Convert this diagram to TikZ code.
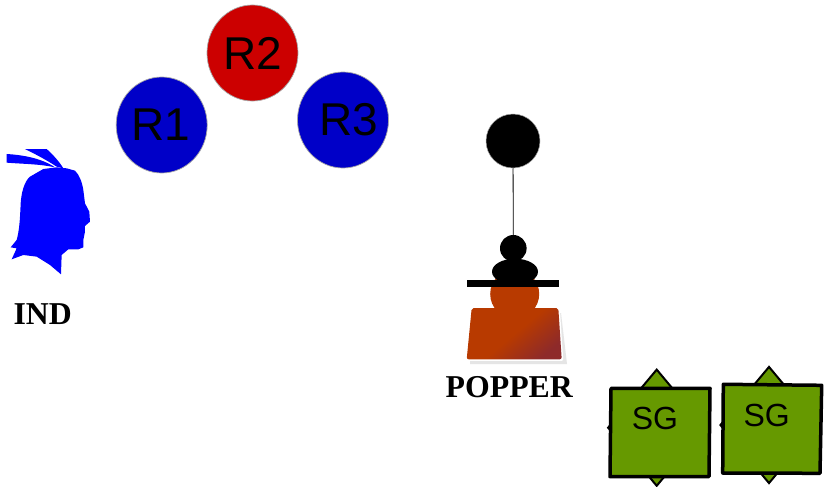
\documentclass[tikz,border=0pt]{standalone}
\usepackage{fontspec}
\setmainfont{Liberation Serif}
\newfontfamily\sgfont{Liberation Sans}
\usepackage{xcolor}
\usetikzlibrary{positioning,shapes.geometric}
\definecolor{ballblue}{HTML}{0000C8}
\definecolor{ballred}{HTML}{CC0000}
\definecolor{indblue}{HTML}{0000FF}
\definecolor{sggreen}{HTML}{669900}
\definecolor{popA}{HTML}{B83A00}
\definecolor{popB}{HTML}{8E2A2A}
\tikzset{
ball/.style={ellipse,draw=gray!70,line width=0.7pt,inner sep=0pt,minimum width=91pt,minimum height=96pt,font=\sgfont\fontsize{46}{46}\selectfont},
balltext/.style={inner sep=0pt,font=\sgfont\fontsize{46}{46}\selectfont},
tag/.style={inner sep=0pt,font=\bfseries\fontsize{31.8}{32}\selectfont},
sgmark/.style={diamond,draw=black,line width=2pt,fill=sggreen,inner sep=0pt},
sgtext/.style={inner sep=0pt,font=\sgfont\fontsize{32}{32}\selectfont},
sgbox/.style={draw=black,line width=3.5pt,fill=sggreen,line join=round}
}
\begin{document}
\begin{tikzpicture}[x=1pt,y=-1pt]
\useasboundingbox (0,0) rectangle (827,487);
\fill[white] (0,0) rectangle (827,487);
% R balls
\node[ball,fill=ballblue] (R1) at (161.7,125) {};
\node[balltext] (R1text) at (160.5,125) {R1};
\node[ball,fill=ballred] (R2) at (252.5,53) {};
\node[balltext] (R2text) at (252.7,53) {R2};
\node[ball,fill=ballblue] (R3) at (343,120) {};
\node[balltext] (R3text) at (349,120) {R3};
% IND
\begin{scope}[shift={(0,140)},x=0.3333pt,y=-0.3333pt]
\fill[indblue] (20,42) .. controls (70,45) and (125,55) .. (165,82) .. controls (120,72) and (70,72) .. (20,68) -- cycle;
\fill[indblue] (75,27) -- (140,27) .. controls (160,45) and (178,65) .. (190,85) -- (170,80) .. controls (140,60) and (105,42) .. (75,27) -- cycle;
\fill[indblue] (130,87) -- (170,82) -- (200,85) -- (225,92) .. controls (238,105) and (246,125) .. (250,150) -- (255,190) -- (268,215) -- (270,245) -- (255,258) -- (255,275) -- (250,300) -- (250,322) -- (235,328) -- (205,328) -- (185,345) -- (183,403) -- (150,375) -- (110,350) -- (70,345) -- (35,358) -- (50,325) -- (32,322) -- (50,300) .. controls (58,270) and (60,240) .. (62,190) .. controls (64,160) and (72,125) .. (90,110) -- cycle;
\end{scope}
\node[tag] (IND) at (42.7,314) {IND};
% POPPER
\fill[gray!20] (474,313) -- (561,313) -- (567,364) -- (470,364) -- cycle;
\node[circle,fill=white,inner sep=0pt,minimum size=52pt] (bodyring) at (514.7,294) {};
\draw[white,line width=3pt,line join=round] (471.7,308) -- (558.3,308) -- (561.7,359.3) -- (466.7,359.3) -- cycle;
\shade[left color=popA,right color=popB,middle color=popA,shading angle=40,rounded corners=2pt] (471.7,308) -- (558.3,308) -- (561.7,359.3) -- (466.7,359.3) -- cycle;
\node[circle,fill=popA,inner sep=0pt,minimum size=49pt] (bodyhead) at (514.7,294) {};
\node[rectangle,fill=black,inner sep=0pt,minimum width=92.6pt,minimum height=7.5pt] (bar) at (513,283.6) {};
\node[ellipse,fill=black,inner sep=0pt,minimum width=46pt,minimum height=26pt] (hat) at (515,271.7) {};
\node[circle,fill=black,inner sep=0pt,minimum size=26.6pt] (knob) at (513.3,248.3) {};
\node[circle,fill=black,draw=gray!70,line width=0.5pt,inner sep=0pt,minimum size=54pt] (top) at (513,141) {};
\draw[black,line width=0.8pt] (top) -- (knob);
\node[tag] (POPPER) at (509.3,387.5) {POPPER};
% SG
\node[sgmark,minimum width=98pt,minimum height=117pt] (markA) at (656.7,427.7) {};
\draw[sgbox] (611,388.3) -- (710,388.3) -- (709,476.7) -- (610,476.7) -- cycle;
\node[sgtext] (SGA) at (655,418.3) {SG};
\node[sgmark,minimum width=98pt,minimum height=117pt] (markB) at (769,425) {};
\draw[sgbox] (723.3,384.3) -- (821.7,385.3) -- (820,473.3) -- (722.7,473) -- cycle;
\node[sgtext] (SGB) at (766.7,415) {SG};
\end{tikzpicture}
\end{document}
